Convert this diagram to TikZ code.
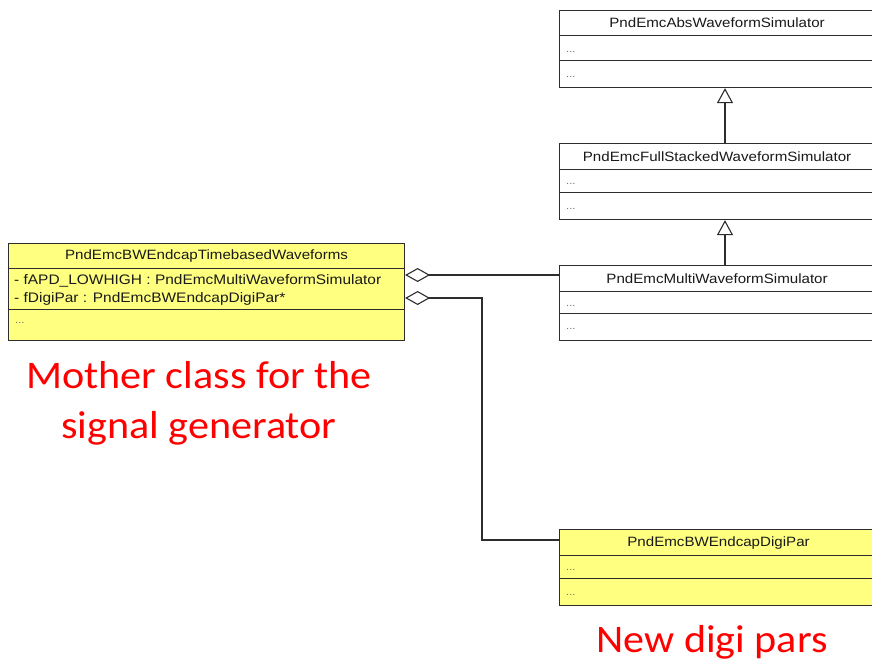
\documentclass[tikz,border=0pt]{standalone}
\usepackage{fontspec}
\newfontfamily\umlfont[FakeStretch=1.12]{Liberation Sans}
\newfontfamily\notefont[FakeStretch=1.08]{Carlito}
\usetikzlibrary{arrows.meta,calc}
\definecolor{umlyellow}{RGB}{255,255,128}
\definecolor{umlline}{RGB}{45,45,45}
\definecolor{notered}{RGB}{255,0,0}

\begin{document}
\begin{tikzpicture}[x=1pt,y=-1pt,
  comp/.style={draw=umlline, line width=1.1pt, inner sep=0pt, anchor=north west,
    font=\umlfont\fontsize{13.5}{15}\selectfont, text=black!90},
  whitebox/.style={comp, fill=white},
  yellowbox/.style={comp, fill=umlyellow},
  dots/.style={anchor=west, inner sep=0pt, text=black!55,
    font=\umlfont\fontsize{10}{10}\selectfont},
  attrs/.style={anchor=west, inner sep=0pt, align=left, text=black!90,
    font=\umlfont\fontsize{13.8}{18}\selectfont},
  inherit/.style={draw=umlline, line width=1.1pt,
    -{Triangle[open, length=15pt, width=16pt, fill=white]}},
  aggr/.style={draw=umlline, line width=1.1pt,
    -{Diamond[open, length=25pt, width=14pt, fill=white]}},
  note/.style={text=notered, align=center,
    font=\notefont\fontsize{39}{50}\selectfont}]

\useasboundingbox (0,0) rectangle (872,664);
\clip (0,0) rectangle (872,664);

% PndEmcAbsWaveformSimulator
\node[whitebox, minimum width=315pt, minimum height=25pt] (absHead) at (559,10) {PndEmcAbsWaveformSimulator};
\node[whitebox, minimum width=315pt, minimum height=25pt] (absAttr) at (559,35) {};
\node[whitebox, minimum width=315pt, minimum height=27pt] (absOps) at (559,60) {};
\node[dots] (absAttrDots) at ($(absAttr.west)+(7,3.5)$) {...};
\node[dots] (absOpsDots) at ($(absOps.west)+(7,2.5)$) {...};

% PndEmcFullStackedWaveformSimulator
\node[whitebox, minimum width=315pt, minimum height=26pt] (fullHead) at (559,143) {PndEmcFullStackedWaveformSimulator};
\node[whitebox, minimum width=315pt, minimum height=23pt] (fullAttr) at (559,169) {};
\node[whitebox, minimum width=315pt, minimum height=27pt] (fullOps) at (559,192) {};
\node[dots] (fullAttrDots) at ($(fullAttr.west)+(7,3)$) {...};
\node[dots] (fullOpsDots) at ($(fullOps.west)+(7,2.5)$) {...};

% PndEmcMultiWaveformSimulator
\node[whitebox, minimum width=315pt, minimum height=26pt] (multiHead) at (559,265) {PndEmcMultiWaveformSimulator};
\node[whitebox, minimum width=315pt, minimum height=22pt] (multiAttr) at (559,291) {};
\node[whitebox, minimum width=315pt, minimum height=27pt] (multiOps) at (559,313) {};
\node[dots] (multiAttrDots) at ($(multiAttr.west)+(7,3)$) {...};
\node[dots] (multiOpsDots) at ($(multiOps.west)+(7,2)$) {...};

% PndEmcBWEndcapDigiPar
\node[yellowbox, minimum width=318pt, minimum height=26pt] (digiHead) at (559,529) {PndEmcBWEndcapDigiPar};
\node[yellowbox, minimum width=318pt, minimum height=23pt] (digiAttr) at (559,555) {};
\node[yellowbox, minimum width=318pt, minimum height=27pt] (digiOps) at (559,578) {};
\node[dots] (digiAttrDots) at ($(digiAttr.west)+(7,3)$) {...};
\node[dots] (digiOpsDots) at ($(digiOps.west)+(7,2.5)$) {...};

% PndEmcBWEndcapTimebasedWaveforms
\node[yellowbox, minimum width=396pt, minimum height=25pt] (motherHead) at (8,243) {PndEmcBWEndcapTimebasedWaveforms};
\node[yellowbox, minimum width=396pt, minimum height=41pt] (motherAttr) at (8,268) {};
\node[yellowbox, minimum width=396pt, minimum height=31pt] (motherOps) at (8,309) {};
\node[attrs] (motherAttrText) at ($(motherAttr.west)+(6,0.5)$)
  {- fAPD\_LOWHIGH : PndEmcMultiWaveformSimulator\\- fDigiPar : PndEmcBWEndcapDigiPar*};
\node[dots] (motherOpsDots) at ($(motherOps.west)+(7,-2)$) {...};

% generalisations, drawn off-centre as in the tool's layout
\draw[inherit] (fullHead.north -| 725,0) -- (absOps.south -| 725,0);
\draw[inherit] (multiHead.north -| 725,0) -- (fullOps.south -| 725,0);

% aggregations
\draw[aggr] (multiHead.west |- 0,275) -- (motherAttr.east |- 0,275);
\draw[aggr] (digiHead.west |- 0,540) -| (482,298) -- (motherAttr.east |- 0,298);

% annotations
\node[note] (motherNote) at (199,403) {Mother class for the\\signal generator};
\node[note] (digiNote) at (712,642) {New digi pars};
\end{tikzpicture}
\end{document}
